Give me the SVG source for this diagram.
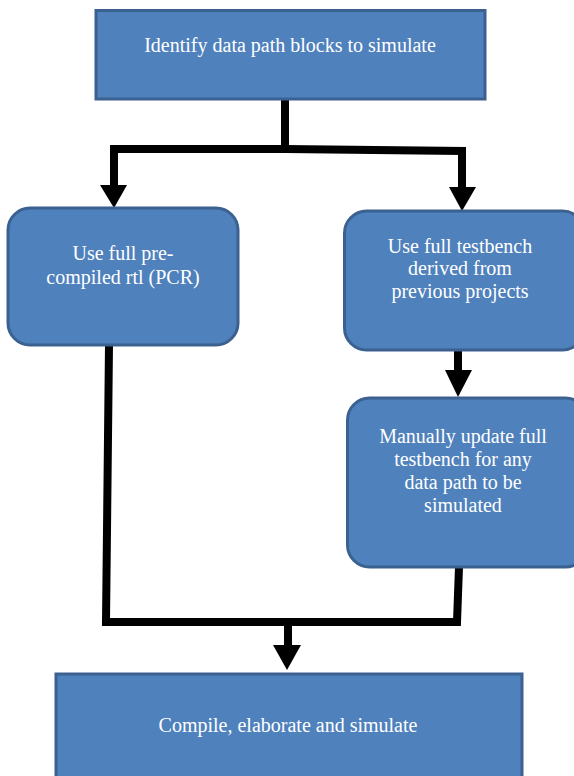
<svg xmlns="http://www.w3.org/2000/svg" width="574" height="776" viewBox="0 0 574 776">
<style>
.box{fill:#4f81bd;stroke:#3b6190;stroke-width:3}
.t{font-family:'Liberation Serif','Times New Roman',serif;font-size:20px;fill:#ffffff;text-anchor:middle}
.ln{fill:none;stroke:#000;stroke-width:8;stroke-linejoin:miter}
.ah{fill:#000}
</style>
<rect width="574" height="776" fill="#ffffff"/>
<g id="connectors">
<polyline class="ln" points="285,100 285,149 114,149 114,188"/>
<polyline class="ln" points="285,149 462,151 462,188"/>
<polygon class="ah" points="100,185 127,185 114,208"/>
<polygon class="ah" points="449,187 476,187 462,211"/>
<line class="ln" x1="458" y1="350" x2="458" y2="373"/>
<polygon class="ah" points="445,370 472,370 458,397"/>
<polyline class="ln" points="109,345 106,622 457,622 459,567"/>
<line class="ln" x1="288" y1="622" x2="288" y2="648"/>
<polygon class="ah" points="273,645 301,645 287,670"/>
</g>
<g id="n1">
<rect class="box" x="96" y="10.5" width="389" height="88.5"/>
<text class="t" x="290" y="52">Identify data path blocks to simulate</text>
</g>
<g id="n2">
<rect class="box" x="8" y="208" width="230" height="137" rx="22"/>
<text class="t" x="123" y="260">Use full pre-</text>
<text class="t" x="123" y="284">compiled rtl (PCR)</text>
</g>
<g id="n3">
<rect class="box" x="344.5" y="211" width="240" height="139" rx="22"/>
<text class="t" x="460" y="253">Use full testbench</text>
<text class="t" x="460" y="275">derived from</text>
<text class="t" x="460" y="298">previous projects</text>
</g>
<g id="n4">
<rect class="box" x="347.5" y="398" width="240" height="169" rx="22"/>
<text class="t" x="463" y="443">Manually update full</text>
<text class="t" x="463" y="466">testbench for any</text>
<text class="t" x="463" y="489">data path to be</text>
<text class="t" x="463" y="512">simulated</text>
</g>
<g id="n5">
<rect class="box" x="56" y="674" width="466" height="110"/>
<text class="t" x="288" y="732">Compile, elaborate and simulate</text>
</g>
</svg>
